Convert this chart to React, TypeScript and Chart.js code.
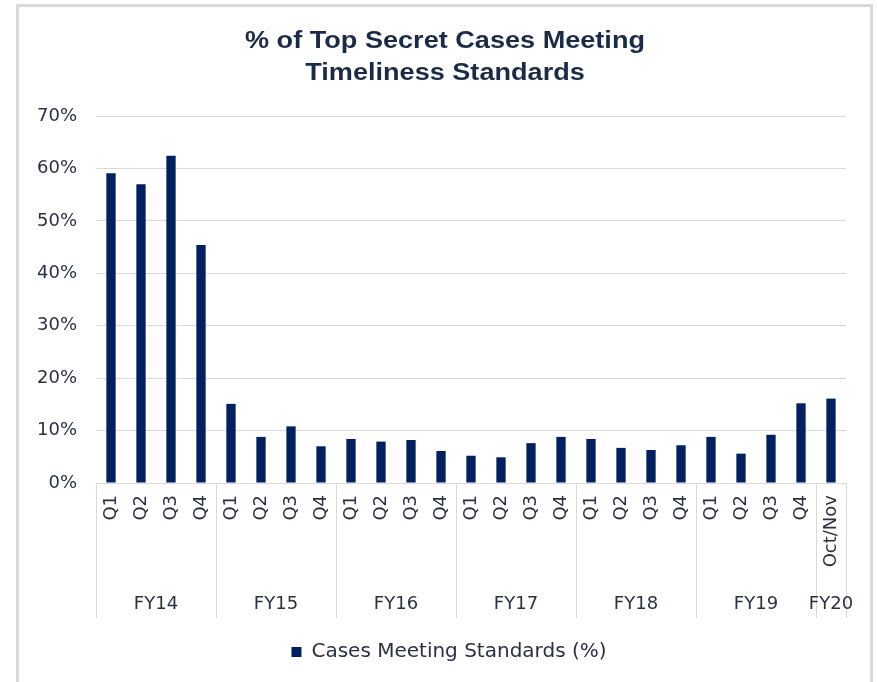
import React, { useEffect, useRef } from 'react';
import { Chart, registerables } from 'chart.js';

Chart.register(...registerables);

const quarterLabels = [
  'Q1', 'Q2', 'Q3', 'Q4',
  'Q1', 'Q2', 'Q3', 'Q4',
  'Q1', 'Q2', 'Q3', 'Q4',
  'Q1', 'Q2', 'Q3', 'Q4',
  'Q1', 'Q2', 'Q3', 'Q4',
  'Q1', 'Q2', 'Q3', 'Q4',
  'Oct/Nov',
];
const fiscalYears = ['FY14', 'FY15', 'FY16', 'FY17', 'FY18', 'FY19', 'FY20'];
const periodsPerYear = [4, 4, 4, 4, 4, 4, 1];
const casesMeetingStandards = [
  59.1, 57.0, 62.4, 45.4,
  15.1, 8.8, 10.8, 7.0,
  8.4, 7.9, 8.2, 6.1,
  5.2, 4.9, 7.6, 8.8,
  8.4, 6.7, 6.3, 7.2,
  8.8, 5.6, 9.2, 15.2,
  16.1,
];
const yMax = 70;
const yStep = 10;
const titleLines = ['% of Top Secret Cases Meeting', 'Timeliness Standards'];
const seriesName = 'Cases Meeting Standards (%)';

const TEXT = '#2a3142';
const GRID = '#d9d9d9';
const BAR = '#002060';
const FONT = '"DejaVu Sans", "Liberation Sans", Arial, sans-serif';
const TITLE_FONT = 'bold 23px "Liberation Sans", Arial, sans-serif';

const framePlugin = {
  id: 'frameAndTitle',
  afterLayout(chart: any) {
    if (chart.legend) {
      chart.legend.left += 26;
      chart.legend.right += 26;
    }
  },
  beforeDraw(chart: any) {
    const { ctx, width, height } = chart;
    ctx.save();
    ctx.fillStyle = '#ffffff';
    ctx.fillRect(0, 0, width, height);
    ctx.strokeStyle = '#d9d9d9';
    ctx.lineWidth = 3;
    ctx.strokeRect(17.5, 5.5, 854, height + 20);
    ctx.restore();
  },
  afterDraw(chart: any) {
    const { ctx } = chart;
    ctx.save();
    ctx.font = TITLE_FONT;
    ctx.fillStyle = '#1b2a45';
    ctx.textAlign = 'center';
    ctx.textBaseline = 'alphabetic';
    const w0 = ctx.measureText(titleLines[0]).width;
    const sx = 400 / w0;
    const cx = 445;
    const baselines = [48, 80];
    titleLines.forEach((line, i) => {
      ctx.save();
      ctx.translate(cx, baselines[i]);
      ctx.scale(sx, 1);
      ctx.fillText(line, 0, 0);
      ctx.restore();
    });
    ctx.restore();
  },
};

const groupPlugin = {
  id: 'fyGroups',
  afterDraw(chart: any) {
    const { ctx, chartArea } = chart;
    const xs = chart.scales.x;
    const n = quarterLabels.length;
    const w = (xs.right - xs.left) / n;
    const top = chartArea.bottom;
    const bottom = top + 135;
    ctx.save();
    ctx.strokeStyle = GRID;
    ctx.lineWidth = 1;
    let idx = 0;
    const bounds: number[] = [0];
    periodsPerYear.forEach((c) => {
      idx += c;
      bounds.push(idx);
    });
    bounds.forEach((b) => {
      const x = Math.round(xs.left + b * w) + 0.5;
      ctx.beginPath();
      ctx.moveTo(x, top);
      ctx.lineTo(x, bottom);
      ctx.stroke();
    });
    ctx.fillStyle = TEXT;
    ctx.font = `18px ${FONT}`;
    ctx.textAlign = 'center';
    ctx.textBaseline = 'middle';
    fiscalYears.forEach((fy, i) => {
      const cx = xs.left + ((bounds[i] + bounds[i + 1]) / 2) * w;
      ctx.fillText(fy, cx, top + 121);
    });
    ctx.restore();
  },
};

export default function App() {
  const ref = useRef<HTMLCanvasElement | null>(null);
  useEffect(() => {
    if (!ref.current) return;
    const chart = new Chart(ref.current, {
      type: 'bar',
      data: {
        labels: quarterLabels,
        datasets: [
          {
            label: seriesName,
            data: casesMeetingStandards,
            backgroundColor: BAR,
            borderWidth: 0,
            barPercentage: 0.62,
            categoryPercentage: 0.5,
          },
        ],
      },
      plugins: [framePlugin, groupPlugin],
      options: {
        responsive: false,
        animation: false,
        layout: { padding: { left: 0, right: 31, top: 116, bottom: 10 } },
        plugins: {
          title: { display: false },
          legend: {
            position: 'bottom',
            labels: {
              color: TEXT,
              font: { family: FONT, size: 20 },
              boxWidth: 10,
              boxHeight: 10,
              padding: 22,
            },
          },
          tooltip: { enabled: false },
        },
        scales: {
          x: {
            grid: { display: false, drawTicks: false },
            border: { display: true, color: GRID, width: 1 },
            ticks: {
              color: TEXT,
              font: { family: FONT, size: 18 },
              minRotation: 90,
              maxRotation: 90,
              autoSkip: false,
              padding: 12,
            },
            afterFit(scale: any) {
              scale.height = 137;
            },
          },
          y: {
            min: 0,
            max: yMax,
            grid: { color: GRID, drawTicks: false },
            border: { display: false },
            ticks: {
              stepSize: yStep,
              color: TEXT,
              font: { family: FONT, size: 18 },
              padding: 19,
              callback: (v: any) => `${v}%`,
            },
            afterFit(scale: any) {
              scale.width = 96;
            },
          },
        },
      },
    });
    return () => chart.destroy();
  }, []);
  return (
    <div style={{ position: 'fixed', left: 0, top: 0, width: 877, height: 682 }}>
      <canvas ref={ref} width={877} height={682} style={{ display: 'block' }} />
    </div>
  );
}
